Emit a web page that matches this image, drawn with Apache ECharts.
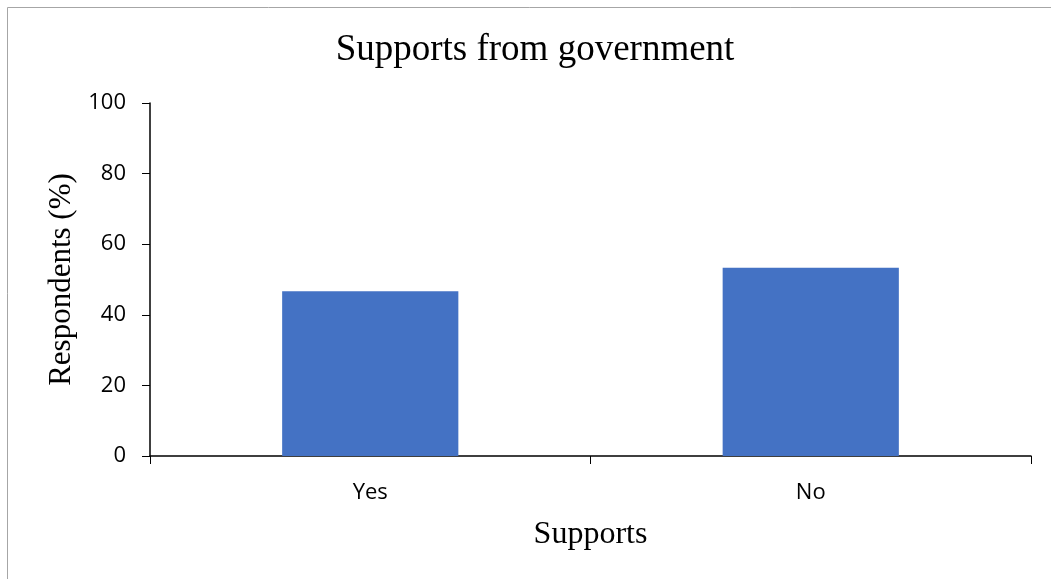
<!DOCTYPE html>
<html>
<head>
<meta charset="utf-8">
<script src="https://cdn.jsdelivr.net/npm/echarts@6/dist/echarts.min.js"></script>
<style>
html,body{margin:0;padding:0;background:#fff;}
#chart{width:1051px;height:579px;}
</style>
</head>
<body>
<div id="chart"></div>
<script>
const categories = ['Yes', 'No'];
const values = [46.7, 53.3];
const titleText = 'Supports from government';
const xName = 'Supports';
const yName = 'Respondents (%)';

const chart = echarts.init(document.getElementById('chart'), null, {renderer: 'canvas'});
chart.setOption({
  animation: false,
  backgroundColor: '#fff',
  graphic: [{
    type: 'rect',
    shape: {x: 7.5, y: 7.5, width: 1100, height: 700},
    style: {fill: 'none', stroke: '#a6a6a6', lineWidth: 1},
    silent: true
  }],
  title: {
    text: titleText,
    left: 530,
    top: 27,
    textAlign: 'center',
    textStyle: {fontFamily: 'Liberation Serif', fontSize: 37, fontWeight: 'normal', color: '#000'}
  },
  grid: {left: 150, right: 20, top: 103, bottom: 123, containLabel: false},
  xAxis: {
    type: 'category',
    data: categories,
    name: xName,
    nameLocation: 'middle',
    nameGap: 63,
    nameTextStyle: {fontFamily: 'Liberation Serif', fontSize: 32, color: '#000'},
    axisLine: {lineStyle: {color: '#000', width: 1.5}},
    axisTick: {show: true, length: 8, lineStyle: {color: '#000'}},
    axisLabel: {margin: 26, fontFamily: 'Open Sans', fontSize: 22, color: '#000'},
    splitLine: {show: false}
  },
  yAxis: {
    type: 'value',
    min: 0, max: 100, interval: 20,
    name: yName,
    nameLocation: 'middle',
    nameGap: 72,
    nameTextStyle: {fontFamily: 'Liberation Serif', fontSize: 31, color: '#000'},
    axisLine: {show: true, lineStyle: {color: '#000', width: 1.5}},
    axisTick: {show: true, length: 8, inside: false, lineStyle: {color: '#000'}},
    axisLabel: {margin: 24, fontFamily: 'Open Sans', fontSize: 22, color: '#000'},
    splitLine: {show: false}
  },
  series: [{
    type: 'bar',
    data: values,
    barWidth: '40%',
    itemStyle: {color: '#4472c4'}
  }]
});
</script>
</body>
</html>
